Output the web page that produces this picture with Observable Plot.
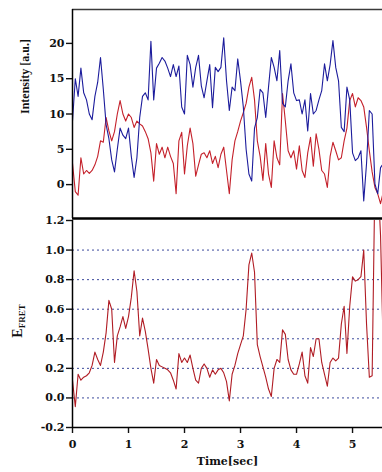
<!DOCTYPE html>
<html><head><meta charset="utf-8">
<script src="https://cdn.jsdelivr.net/npm/d3@7"></script>
<script src="https://cdn.jsdelivr.net/npm/@observablehq/plot@0.6"></script>
<style>
html,body{margin:0;padding:0;background:#fff;}
#chart{position:relative;width:382px;height:472px;overflow:hidden;background:#fff;}
#chart svg{position:absolute;left:0;}
</style></head><body><div id="chart"></div>
<script>
// sampling interval of the traces (seconds)
const sampleInterval = 0.05;

// donor / acceptor intensity traces [a.u.], one value per sample from t = 0
const blueIntensity = [
  9, 15, 12.5, 16.5, 13, 12, 10, 9.2, 12.5, 14.5,
  18, 13.5, 8.5, 6.5, 3.5, 1.8, 5, 8, 7, 6.5,
  8, 4, 1, 3.8, 9.5, 12.5, 13, 12, 20.3, 12,
  16.5, 17.2, 18, 17.5, 16.5, 15.3, 17, 15.3, 16.8, 11,
  10, 18.3, 17, 13.8, 16.6, 18.3, 14, 12.3, 14.7, 17,
  10.9, 16.6, 16, 16.6, 20.8, 14.7, 10.5, 13.8, 13.3, 17.8,
  14.7, 11, 5, 1.5, 0.5, 8, 9.5, 13.5, 13, 9.5,
  13.8, 18, 16.6, 14.7, 19, 11.5, 11, 14.7, 17.1, 13,
  11.9, 12, 10, 12, 7.6, 12.9, 10, 10.5, 12, 13.3,
  17.1, 14.7, 17, 20.4, 16.6, 14.7, 8.1, 7.5, 13.8, 12,
  4.5, 3.4, 3.8, 4.8, -2.3, 3, 10.5, 10, 0.1, -1.3,
  2.4, 3
];
const redIntensity = [
  3, -1, -1.5, 3.8, 1.5, 2, 1.6, 2, 2.8, 4,
  6.2, 6, 9.5, 7.6, 6.2, 7.5, 10, 11.9, 10, 9,
  10, 9.5, 8.1, 9, 8.6, 8.3, 7.5, 6.5, 4.5, 0.5,
  5.8, 4.3, 5.3, 3.8, 5.3, 4, 3, -1.3, 6.2, 7.4,
  1.5, 5.5, 8, 5.8, 1.2, 2.8, 4.3, 4.5, 3.8, 4.8,
  3, 4, 2.4, 4.3, 5.3, 2, -1.3, 3.5, 6.2, 7.5,
  9, 10.2, 11.5, 13.8, 15.2, 12, 6.2, 4, 0.6, 5.8,
  1.5, -0.4, 6.2, 3.8, 2.8, 12.9, 9, 4.8, 3.8, 4.8,
  2.2, 5.5, 2, 1, 4.5, 6.7, 2.6, 7.2, 5, 2,
  1.5, -0.4, 4, 6, 4.8, 3.5, 3.8, 6.2, 8, 11.9,
  12.9, 11, 12.3, 11.9, 11, 8.1, 4.8, 1.8, -0.4, -1.3,
  -2.7, -1
];
// FRET efficiency trace
const fretEfficiency = [
  0.12, -0.06, 0.16, 0.12, 0.14, 0.15, 0.17, 0.22, 0.31, 0.26,
  0.22, 0.31, 0.44, 0.66, 0.6, 0.24, 0.42, 0.48, 0.55, 0.47,
  0.55, 0.68, 0.86, 0.72, 0.42, 0.54, 0.45, 0.33, 0.2, 0.1,
  0.26, 0.22, 0.21, 0.2, 0.19, 0.17, 0.12, 0.06, 0.3, 0.24,
  0.27, 0.24, 0.29, 0.2, 0.12, 0.1, 0.2, 0.23, 0.2, 0.14,
  0.19, 0.16, 0.19, 0.2, 0.17, 0.11, -0.02, 0.16, 0.22, 0.3,
  0.36, 0.42, 0.6, 0.9, 0.98, 0.85, 0.36, 0.28, 0.21, 0.14,
  0.06, 0.01, 0.2, 0.26, 0.24, 0.46, 0.43, 0.26, 0.19, 0.16,
  0.16, 0.23, 0.31, 0.15, 0.1, 0.34, 0.28, 0.4, 0.4, 0.24,
  0.16, 0.08, 0.24, 0.27, 0.25, 0.27, 0.5, 0.62, 0.3, 0.62,
  0.82, 0.79, 0.8, 0.82, 1.0, 0.5, 0.14, 0.15, 1.5, 1.5,
  1.1, 0.3
];

const timeTicks = [0, 1, 2, 3, 4, 5];
const intensityTicks = [0, 5, 10, 15, 20];
const fretTicks = [-0.2, 0, 0.2, 0.4, 0.6, 0.8, 1.0, 1.2];
const fretGridLevels = [0, 0.2, 0.4, 0.6, 0.8, 1.0];

const rows = blueIntensity.map((b, i) => ({
  t: i * sampleInterval, blue: b, red: redIntensity[i], fret: fretEfficiency[i]
}));

const W = 382, L = 72;
const xDomain = [0, 5.535];
const tickFont = "DejaVu Serif";
const baseStyle = {background: "transparent", fontFamily: tickFont, fontSize: "11px",
  fontWeight: "bold", color: "#111", overflow: "visible"};

const topPlot = Plot.plot({
  width: W, height: 222, marginTop: 9, marginBottom: 4, marginLeft: L, marginRight: 0,
  style: baseStyle,
  x: {domain: xDomain, axis: null},
  y: {domain: [-4.8, 24.8], ticks: intensityTicks, tickSize: 6, tickPadding: 2,
      tickFormat: d => String(d), label: null},
  marks: [
    Plot.line(rows, {x: "t", y: "red", stroke: "#c4202a", strokeWidth: 1.1, clip: true}),
    Plot.line(rows, {x: "t", y: "blue", stroke: "#1c1c9c", strokeWidth: 1.1, clip: true}),
    Plot.ruleY([24.8], {stroke: "#3a3a3a", strokeWidth: 1.5}),
    Plot.ruleY([-4.8], {stroke: "#000", strokeWidth: 2.5}),
    Plot.ruleX([0], {stroke: "#000", strokeWidth: 1.5}),
    Plot.text(["Intensity [a.u.]"], {frameAnchor: "left", dx: -47, rotate: -90,
      fontFamily: "Liberation Serif", fontSize: 12, fontWeight: "bold", fill: "#111"})
  ]
});

const bottomPlot = Plot.plot({
  width: W, height: 254, marginTop: 2, marginBottom: 45, marginLeft: L, marginRight: 0,
  style: baseStyle,
  x: {domain: xDomain, ticks: timeTicks, tickSize: 6, tickPadding: 7,
      tickFormat: d => String(d), label: null},
  y: {domain: [-0.2, 1.2], ticks: fretTicks, tickSize: 6, tickPadding: 2,
      tickFormat: d => d.toFixed(1), label: null},
  marks: [
    Plot.ruleY(fretGridLevels, {stroke: "#3c4a9c", strokeDasharray: "2,3", strokeWidth: 1}),
    Plot.line(rows, {x: "t", y: "fret", stroke: "#b01c24", strokeWidth: 1.1, clip: true}),
    Plot.ruleY([-0.2], {stroke: "#000", strokeWidth: 1.5}),
    Plot.ruleX([0], {stroke: "#000", strokeWidth: 1.5}),
    Plot.text(["Time[sec]"], {frameAnchor: "bottom", dy: 37, fontFamily: tickFont,
      fontSize: 11, fontWeight: "bold", fill: "#111"})
  ]
});

// thicker axis tick marks
for (const svg of [topPlot, bottomPlot]) {
  d3.select(svg).selectAll('[aria-label$="tick"] path').attr("stroke-width", 1.4);
}

// E_FRET axis title with subscript
const lab = d3.select(bottomPlot).append("g").attr("transform", "translate(22,103) rotate(-90)");
const txt = lab.append("text").attr("text-anchor", "middle")
  .attr("font-family", "Liberation Serif").attr("font-weight", "bold")
  .attr("font-size", 14).attr("fill", "#111");
txt.append("tspan").text("E");
txt.append("tspan").attr("dy", "0.3em").attr("font-size", 9).text("FRET");

const chart = document.getElementById("chart");
bottomPlot.style.top = "218px";
topPlot.style.top = "0px";
chart.appendChild(bottomPlot);
chart.appendChild(topPlot);
</script></body></html>
